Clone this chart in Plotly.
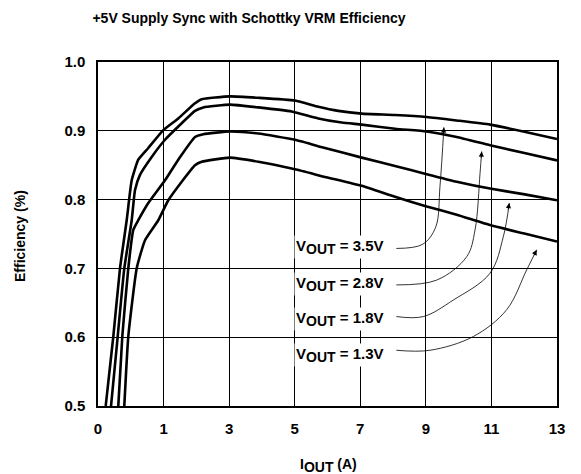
import plotly.graph_objects as go

# ---- data (axis units; the left edge of the axis is labelled "0") ----
x_tickvals = [-1, 1, 3, 5, 7, 9, 11, 13]
x_ticktext = ["0", "1", "3", "5", "7", "9", "11", "13"]
y_tickvals = [0.5, 0.6, 0.7, 0.8, 0.9, 1.0]

x_35 = [-0.765, -0.533, -0.329, -0.125, 0.028, 0.229, 0.534, 0.992, 1.449, 1.959, 2.163, 3.026,
        3.889, 5.009, 5.719, 6.329, 7.043, 8.059, 9.026, 9.941, 10.957, 11.972, 13.0]
y_35 = [0.500, 0.601, 0.700, 0.770, 0.828, 0.858, 0.875, 0.901, 0.918, 0.940, 0.946, 0.950,
        0.948, 0.944, 0.935, 0.929, 0.925, 0.923, 0.920, 0.915, 0.909, 0.899, 0.888]

x_28 = [-0.603, -0.399, -0.198, 0.028, 0.129, 0.281, 0.638, 1.044, 1.553, 1.959, 2.212, 3.026,
        3.889, 4.908, 5.719, 6.433, 7.043, 8.059, 9.026, 9.941, 10.957, 11.972, 13.0]
y_28 = [0.500, 0.601, 0.700, 0.770, 0.814, 0.836, 0.862, 0.887, 0.911, 0.929, 0.934, 0.938,
        0.934, 0.928, 0.918, 0.912, 0.909, 0.903, 0.899, 0.891, 0.879, 0.868, 0.857]

x_18 = [-0.381, -0.259, -0.076, 0.077, 0.229, 0.534, 1.044, 1.449, 1.959, 2.212, 3.026,
        3.889, 5.009, 5.924, 7.043, 8.059, 9.026, 9.941, 10.957, 11.972, 13.0]
y_18 = [0.500, 0.601, 0.700, 0.756, 0.770, 0.795, 0.828, 0.858, 0.891, 0.895, 0.899,
        0.896, 0.887, 0.875, 0.861, 0.849, 0.837, 0.826, 0.816, 0.808, 0.799]

x_13 = [-0.198, -0.076, 0.180, 0.434, 0.839, 1.144, 1.553, 1.959, 2.163, 3.026,
        3.889, 5.009, 5.924, 7.043, 8.059, 9.026, 9.941, 10.957, 11.972, 13.0]
y_13 = [0.500, 0.601, 0.700, 0.741, 0.770, 0.799, 0.826, 0.850, 0.855, 0.861,
        0.855, 0.844, 0.833, 0.820, 0.804, 0.790, 0.778, 0.763, 0.751, 0.739]

series = [("3.5V", x_35, y_35), ("2.8V", x_28, y_28), ("1.8V", x_18, y_18), ("1.3V", x_13, y_13)]

# callout label positions and leader curves (data units)
label_names = ["3.5V", "2.8V", "1.8V", "1.3V"]
label_x = [4.98, 4.98, 4.98, 4.98]
label_y = [0.731, 0.678, 0.626, 0.574]
leader_x = [
    [8.1, 8.9, 9.3, 9.43, 9.55],
    [8.1, 9.33, 10.246, 10.5, 10.652, 10.703],
    [8.1, 8.922, 9.837, 10.957, 11.362, 11.545],
    [8.1, 9.126, 10.447, 11.466, 12.076, 12.381],
]
leader_y = [
    [0.729, 0.735, 0.760, 0.819, 0.905],
    [0.676, 0.683, 0.717, 0.756, 0.838, 0.870],
    [0.630, 0.630, 0.654, 0.693, 0.746, 0.795],
    [0.581, 0.581, 0.601, 0.640, 0.698, 0.727],
]
arrow_dir = [(-0.5, 8), (-0.6, 8), (-1.4, 8), (-3.6, 7.2)]

FONT = "Liberation Sans, Arial, sans-serif"
SUB = "<sub><span style='font-size:14px'>OUT</span></sub>"

fig = go.Figure()
for name, xs, ys in series:
    fig.add_trace(go.Scatter(x=xs, y=ys, mode="lines", name=name,
                             line=dict(color="black", width=2.6, shape="spline", smoothing=0.45),
                             hoverinfo="skip", showlegend=False))

for lx, ly in zip(leader_x, leader_y):
    fig.add_trace(go.Scatter(x=lx, y=ly, mode="lines",
                             line=dict(color="black", width=0.8, shape="spline", smoothing=1.0),
                             hoverinfo="skip", showlegend=False))

annotations = []
for lx, ly, (dx, dy) in zip(leader_x, leader_y, arrow_dir):
    annotations.append(dict(x=lx[-1], y=ly[-1], xref="x", yref="y", text="",
                            showarrow=True, arrowhead=2, arrowsize=1.3, arrowwidth=0.8,
                            arrowcolor="black", ax=dx, ay=dy, standoff=0))

for nm, x0, y0 in zip(label_names, label_x, label_y):
    annotations.append(dict(x=x0, y=y0, xref="x", yref="y", xanchor="left", yanchor="middle",
                            text="V" + SUB + " = " + nm, showarrow=False,
                            bgcolor="white", borderpad=1,
                            font=dict(family=FONT, size=15, color="black", weight="bold")))

L, R, T, B = 98, 24, 62, 68
W, H = 581, 474
pw, ph = W - L - R, H - T - B


def paper_xy(px, py):
    return (px - L) / pw, 1 - (py - T) / ph


ax_x, ax_y = paper_xy(328, 465)
annotations.append(dict(x=ax_x, y=ax_y, xref="paper", yref="paper",
                        text="I" + SUB + " (A)", showarrow=False,
                        xanchor="center", yanchor="middle",
                        font=dict(family=FONT, size=14, color="black", weight="bold")))
ay_x, ay_y = paper_xy(20, 236)
annotations.append(dict(x=ay_x, y=ay_y, xref="paper", yref="paper",
                        text="Efficiency (%)", showarrow=False, textangle=-90,
                        xanchor="center", yanchor="middle",
                        font=dict(family=FONT, size=14, color="black", weight="bold")))

fig.update_layout(
    width=W, height=H,
    margin=dict(l=L, r=R, t=T, b=B),
    paper_bgcolor="white", plot_bgcolor="white",
    title=dict(text="+5V Supply Sync with Schottky VRM Efficiency",
               x=249 / W, xref="container", xanchor="center",
               y=1 - 18 / H, yref="container", yanchor="middle",
               font=dict(family=FONT, size=14, color="black", weight="bold")),
    annotations=annotations,
    font=dict(family=FONT, color="black"),
)
fig.update_xaxes(range=[-1, 13], tickvals=x_tickvals, ticktext=x_ticktext,
                 showgrid=True, gridcolor="black", gridwidth=1,
                 showline=True, linecolor="black", linewidth=1.5, mirror=True,
                 zeroline=False, ticks="", ticklabelstandoff=8,
                 tickfont=dict(family=FONT, size=15, color="black", weight="bold"))
fig.update_yaxes(range=[0.5, 1.0], tickvals=y_tickvals, tickformat=".1f",
                 showgrid=True, gridcolor="black", gridwidth=1,
                 showline=True, linecolor="black", linewidth=1.5, mirror=True,
                 zeroline=False, ticks="", ticklabelstandoff=8,
                 tickfont=dict(family=FONT, size=15, color="black", weight="bold"))

fig.write_html("out.html", config={"displayModeBar": False},
               post_script="document.body.style.margin='0';")
